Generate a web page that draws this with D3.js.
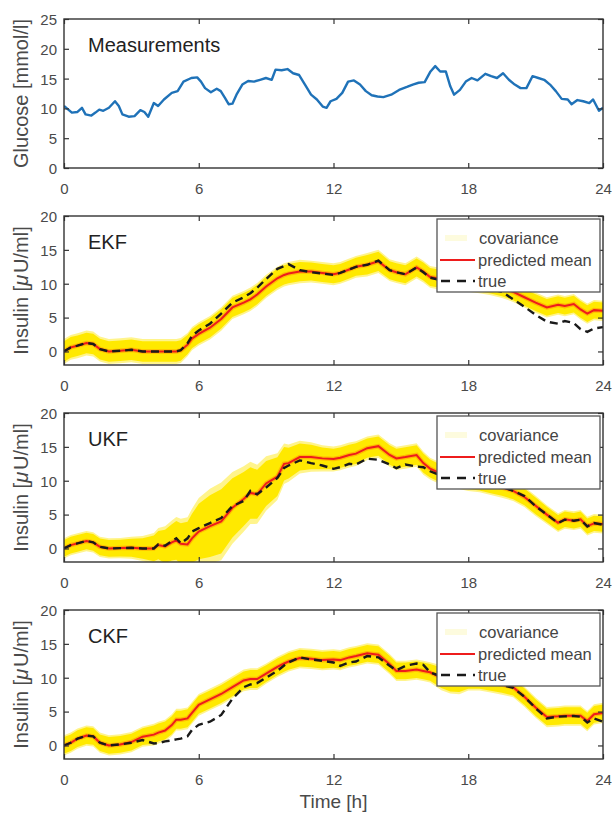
<!DOCTYPE html>
<html>
<head>
<meta charset="utf-8">
<script src="https://cdnjs.cloudflare.com/ajax/libs/d3/7.8.5/d3.min.js"></script>
<style>
  body { margin: 0; background: #fff; }
  svg { display: block; font-family: "Liberation Sans", Arial, sans-serif; }
  .tick text { fill: #4a4a4a; font-size: 15px; }
  .tick line { stroke: #333; stroke-width: 1.2; }
</style>
</head>
<body>
<div id="chart"></div>
<script>
// glucose measurements (mmol/l)
const glucoseHours = [0,0.35,0.6,0.8,0.96,1.22,1.4,1.57,1.75,2.0,2.27,2.44,2.6,2.88,3.14,3.4,3.58,3.75,4.0,4.19,
  4.45,4.8,5.06,5.32,5.67,5.93,6.1,6.28,6.54,6.8,6.98,7.16,7.33,7.5,7.68,7.94,8.2,8.46,8.73,8.99,
  9.25,9.42,9.69,9.95,10.2,10.47,10.73,11.0,11.26,11.52,11.69,11.87,12.13,12.39,12.65,12.91,13.18,13.44,13.7,13.96,
  14.22,14.57,14.92,15.27,15.53,15.79,16.06,16.32,16.53,16.75,17.0,17.2,17.37,17.63,17.89,18.15,18.41,18.76,19.02,19.28,
  19.55,19.81,20.07,20.33,20.59,20.86,21.12,21.38,21.64,21.9,22.16,22.43,22.6,22.86,23.12,23.39,23.56,23.82,24.0];
const glucose = [10.4,9.3,9.4,10.1,9.0,8.8,9.3,9.8,9.6,10.1,11.2,10.4,9.0,8.6,8.7,9.7,9.4,8.6,10.9,10.4,
  11.5,12.6,12.9,14.5,15.1,15.2,14.5,13.4,12.7,13.3,12.9,11.8,10.7,10.8,12.3,14.0,14.6,14.5,14.8,15.1,
  14.8,16.5,16.4,16.6,15.9,15.6,14.0,12.3,11.5,10.3,10.1,11.2,11.6,12.6,14.5,14.7,14.0,12.9,12.2,12.0,
  11.9,12.3,13.1,13.6,14.0,14.3,14.4,16.2,17.1,16.2,16.2,13.7,12.3,13.1,14.5,15.1,14.7,15.8,15.4,15.1,
  15.9,14.8,14.0,13.4,13.4,15.4,15.1,14.8,14.0,12.9,11.6,11.5,10.7,11.4,11.2,10.9,11.5,9.6,10.1];

// insulin (uU/ml), shared time grid
const insulinHours = [0,0.3,0.6,1.0,1.3, 1.6,2.0,2.5,3.0,3.5, 4.0,4.2,4.5,4.8,5.0, 5.2,5.5,5.7,6.0,6.5,
  7.0,7.5,8.0,8.3,8.6, 9.0,9.5,9.8,10.0,10.5, 11.0,11.5,12.0,12.3,12.7, 13.0,13.5,14.0,14.5,14.8,
  15.2,15.7,16.0,16.3,16.8, 17.2,17.6,18.0,18.5,19.0, 19.5,20.0,20.5,21.0,21.5, 22.0,22.3,22.7,23.0,23.3, 23.6,24.0];

const ekfTrue = [0,0.6,0.85,1.25,1.1, 0.35,0,0.1,0.25,0, 0,0,0,0,0, 0.2,1.2,2.3,3.1,4.1,
  5.6,7.2,8.0,8.6,9.4, 10.7,12.2,12.6,12.9,12.0, 11.7,11.5,11.3,11.6,12.1, 12.5,12.8,13.4,12.0,11.7,
  11.4,12.4,11.7,10.9,10.5, 10.4,10.2,9.9,9.6,9.2, 8.8,7.7,6.6,5.4,4.4, 4.1,4.5,4.2,3.3,2.9, 3.4,3.6];
const ekfMean = [0,0.6,0.85,1.25,1.1, 0.35,0,0.1,0.25,0, 0,0,0,0,0, 0.15,1.0,1.9,2.6,3.5,
  4.8,6.5,7.2,7.7,8.4, 9.6,10.8,11.3,11.5,11.8, 11.8,11.6,11.4,11.6,12.1, 12.5,12.8,13.3,12.0,11.7,
  11.4,12.4,11.8,11.0,10.7, 10.6,10.5,10.3,10.1,9.8, 9.4,8.8,8.0,7.2,6.5, 6.9,6.7,7.0,6.2,5.6, 6.1,6.0];
const ekfSd = [1.6,1.6,1.6,1.6,1.6, 1.6,1.6,1.6,1.6,1.6, 1.6,1.6,1.6,1.6,1.6, 1.6,1.5,1.5,1.5,1.5,
  1.5,1.5,1.5,1.5,1.5, 1.5,1.5,1.5,1.5,1.5, 1.4,1.4,1.4,1.4,1.4, 1.4,1.5,1.5,1.4,1.4,
  1.4,1.4,1.4,1.4,1.4, 1.3,1.3,1.3,1.3,1.3, 1.3,1.3,1.3,1.3,1.3, 1.3,1.3,1.3,1.3,1.3, 1.3,1.3];

const ukfTrue = [0,0.5,0.75,1.1,0.9, 0.25,0,0.05,0.1,0, 0,0.6,0.4,1.1,1.5, 0.75,1.5,2.5,3.0,3.75,
  4.5,6.25,7.0,8.5,8.0, 9.0,10.4,11.9,12.25,13.0, 12.6,12.25,11.75,12.0,12.5, 12.4,13.25,13.1,12.4,11.85,
  12.4,12.1,12.0,11.4,10.75, 10.5,10.2,10.0,9.75,9.25, 9.1,8.5,7.75,6.25,5.0, 3.75,4.25,4.1,4.25,3.25, 3.75,3.5];
const ukfMean = [0,0.5,0.75,1.1,0.9, 0.25,0,0.05,0.1,0, 0,0.5,0.3,0.9,1.2, 0.7,0.6,1.5,2.5,3.3,
  4.0,6.0,7.3,8.2,8.0, 9.6,10.6,12.5,12.6,13.5, 13.5,13.3,13.2,13.4,13.8, 14.0,14.8,15.1,13.8,13.3,
  13.5,13.8,12.6,11.8,11.0, 10.7,10.4,10.1,9.8,9.4, 9.0,8.5,7.6,6.3,5.0, 3.8,4.3,4.1,4.3,3.3, 3.7,3.6];
const ukfSd = [1.3,1.3,1.3,1.3,1.3, 1.3,1.3,1.3,1.4,1.6, 2.0,2.2,2.6,2.8,3.0, 3.2,3.5,3.8,4.3,4.8,
  5.0,4.6,4.2,4.0,3.8, 3.5,3.0,2.6,2.4,2.1, 1.9,1.7,1.6,1.6,1.6, 1.6,1.5,1.5,1.5,1.5,
  1.5,1.5,1.5,1.4,1.4, 1.4,1.4,1.4,1.3,1.3, 1.3,1.3,1.3,1.3,1.2, 1.2,1.2,1.2,1.2,1.2, 1.2,1.2];

const ckfTrue = [0,0.4,1.0,1.45,1.35, 0.4,0,0.15,0.4,0.8, 0.3,0.35,0.6,0.75,0.9, 1.0,1.35,2.3,3.05,3.5,
  4.5,6.9,8.6,9.0,9.2, 10.0,11.0,11.8,12.25,13.0, 12.7,12.5,12.25,11.75,12.25, 12.4,13.2,13.0,11.75,11.1,
  11.75,12.1,11.9,10.8,10.2, 9.2,9.35,9.6,9.8,9.35, 8.9,8.5,7.2,5.5,4.0, 4.25,4.3,4.35,4.25,3.4, 4.0,3.5];
const ckfMean = [0,0.4,1.0,1.45,1.35, 0.4,0,0.15,0.5,1.3, 1.6,1.9,2.2,3.0,3.8, 3.8,4.0,4.8,6.0,6.8,
  7.6,8.6,9.6,9.8,9.8, 10.6,11.6,12.1,12.4,12.9, 12.8,12.6,12.7,12.6,13.0, 13.2,13.6,13.4,12.0,11.0,
  11.0,11.2,11.0,10.8,10.0, 9.5,9.4,9.6,9.6,9.3, 9.0,8.6,7.2,5.6,4.2, 4.3,4.4,4.4,4.4,3.6, 4.6,4.8];
const ckfSd = [1.3,1.3,1.3,1.3,1.3, 1.3,1.3,1.3,1.3,1.3, 1.4,1.4,1.4,1.4,1.4, 1.4,1.4,1.4,1.4,1.4,
  1.4,1.4,1.4,1.4,1.4, 1.3,1.3,1.3,1.3,1.3, 1.3,1.3,1.3,1.3,1.3, 1.3,1.3,1.3,1.3,1.3,
  1.3,1.3,1.3,1.3,1.6, 1.6,1.6,1.3,1.3,1.3, 1.3,1.3,1.3,1.3,1.3, 1.3,1.3,1.3,1.3,1.3, 1.3,1.3];

const filterNames = ["EKF", "UKF", "CKF"];
const legendLabels = ["covariance", "predicted mean", "true"];
const hourTicks = [0, 6, 12, 18, 24];
const glucoseTicks = [0, 5, 10, 15, 20, 25];
const insulinTicks = [0, 5, 10, 15, 20];

// layout
const plotLeft = 64, plotRight = 603;
const panelTops = [19, 216, 413, 610];
const panelHeight = 149;
const axisColor = "#333";

const svg = d3.select("#chart").append("svg")
    .attr("width", 612)
    .attr("height", 816);

const x = d3.scaleLinear().domain([0, 24]).range([plotLeft, plotRight]);

function drawAxes(g, y, yTicks, top) {
    let bottom = top + panelHeight;

    g.append("g")
        .attr("transform", `translate(0,${bottom})`)
        .call(d3.axisBottom(x).tickValues(hourTicks).tickSize(-5).tickPadding(15))
        .call(a => a.select(".domain").remove());
    g.append("g")
        .attr("transform", `translate(0,${top})`)
        .call(d3.axisTop(x).tickValues(hourTicks).tickSize(-5).tickFormat(""))
        .call(a => a.select(".domain").remove());
    g.append("g")
        .attr("transform", `translate(${plotLeft},0)`)
        .call(d3.axisLeft(y).tickValues(yTicks).tickSize(-5).tickPadding(7))
        .call(a => a.select(".domain").remove())
        .selectAll("text").attr("dy", "0.36em");
    g.append("g")
        .attr("transform", `translate(${plotRight},0)`)
        .call(d3.axisRight(y).tickValues(yTicks).tickSize(-5).tickFormat(""))
        .call(a => a.select(".domain").remove());

    // box
    g.append("rect")
        .attr("x", plotLeft).attr("y", top)
        .attr("width", plotRight - plotLeft).attr("height", panelHeight)
        .attr("fill", "none")
        .attr("stroke", axisColor)
        .attr("stroke-width", 1.4);
}

function addClip(id, top) {
    svg.append("clipPath").attr("id", id)
        .append("rect")
        .attr("x", plotLeft).attr("y", top)
        .attr("width", plotRight - plotLeft).attr("height", panelHeight);
}

function panelTitle(g, text, top) {
    g.append("text")
        .attr("x", 88).attr("y", top + 33)
        .attr("font-size", 20)
        .attr("fill", "#222")
        .text(text);
}

function yLabel(g, top, build) {
    let t = g.append("text")
        .attr("transform", `translate(28,${top + panelHeight / 2}) rotate(-90)`)
        .attr("text-anchor", "middle")
        .attr("font-size", 20)
        .attr("fill", "#4a4a4a");
    build(t);
}

// ---- glucose panel ----
{
    let top = panelTops[0];
    let g = svg.append("g");
    let y = d3.scaleLinear().domain([0, 25]).range([top + panelHeight, top]);
    addClip("clip0", top);

    let line = d3.line()
        .x((d, i) => x(glucoseHours[i]))
        .y(d => y(d));

    g.append("path")
        .datum(glucose)
        .attr("clip-path", "url(#clip0)")
        .attr("d", line)
        .attr("fill", "none")
        .attr("stroke", "#1f72b8")
        .attr("stroke-width", 2.4)
        .attr("stroke-linejoin", "round");

    drawAxes(g, y, glucoseTicks, top);
    panelTitle(g, "Measurements", top);
    yLabel(g, top, t => t.text("Glucose [mmol/l]"));
}

// ---- filter panels ----
const filterSeries = [
    {truth: ekfTrue, mean: ekfMean, sd: ekfSd},
    {truth: ukfTrue, mean: ukfMean, sd: ukfSd},
    {truth: ckfTrue, mean: ckfMean, sd: ckfSd}
];

filterSeries.forEach((s, k) => {
    let top = panelTops[k + 1];
    let g = svg.append("g");
    let y = d3.scaleLinear().domain([-2, 20]).range([top + panelHeight, top]);
    let clipId = "clip" + (k + 1);
    addClip(clipId, top);

    let body = g.append("g").attr("clip-path", `url(#${clipId})`);

    // covariance band, soft outer rim then solid core
    let band = f => d3.area()
        .x((d, i) => x(insulinHours[i]))
        .y0((d, i) => y(s.mean[i] - s.sd[i] * f))
        .y1((d, i) => y(s.mean[i] + s.sd[i] * f));

    body.append("path").datum(s.mean)
        .attr("d", band(1.15))
        .attr("fill", "#fff48c");
    body.append("path").datum(s.mean)
        .attr("d", band(0.95))
        .attr("fill", "#ffe900");

    let line = arr => d3.line()
        .x((d, i) => x(insulinHours[i]))
        .y(d => y(d))(arr);

    // orange glow round the mean, then mean, then truth
    body.append("path")
        .attr("d", line(s.mean))
        .attr("fill", "none")
        .attr("stroke", "#ff9a00")
        .attr("stroke-width", 4.5)
        .attr("stroke-opacity", 0.6);
    body.append("path")
        .attr("d", line(s.mean))
        .attr("fill", "none")
        .attr("stroke", "#ee1c1c")
        .attr("stroke-width", 2);
    body.append("path")
        .attr("d", line(s.truth))
        .attr("fill", "none")
        .attr("stroke", "#1a1a1a")
        .attr("stroke-width", 2.4)
        .attr("stroke-dasharray", "8,5");

    drawAxes(g, y, insulinTicks, top);
    panelTitle(g, filterNames[k], top);
    yLabel(g, top, t => {
        t.append("tspan").text("Insulin [");
        t.append("tspan").attr("font-style", "italic").text("μ");
        t.append("tspan").attr("dx", 2).text("U/ml]");
    });

    // legend
    let lg = g.append("g").attr("transform", `translate(437,${top + 3})`);
    lg.append("rect")
        .attr("width", 163).attr("height", 73)
        .attr("fill", "#fff")
        .attr("stroke", "#555")
        .attr("stroke-width", 1.3);

    let rowY = [19, 41, 62];
    lg.append("line")
        .attr("x1", 8).attr("x2", 30).attr("y1", rowY[0]).attr("y2", rowY[0])
        .attr("stroke", "#fcf8c8").attr("stroke-width", 6).attr("stroke-opacity", 0.6);
    lg.append("line")
        .attr("x1", 3).attr("x2", 38).attr("y1", rowY[1]).attr("y2", rowY[1])
        .attr("stroke", "#ee1c1c").attr("stroke-width", 2);
    lg.append("line")
        .attr("x1", 4).attr("x2", 38).attr("y1", rowY[2]).attr("y2", rowY[2])
        .attr("stroke", "#1a1a1a").attr("stroke-width", 2.4)
        .attr("stroke-dasharray", "9,7");

    lg.selectAll("text.lbl")
        .data(legendLabels)
        .join("text")
        .attr("class", "lbl")
        .attr("x", (d, i) => i === 0 ? 42 : 41)
        .attr("y", (d, i) => rowY[i])
        .attr("dy", "0.35em")
        .attr("font-size", 16.5)
        .attr("fill", "#444")
        .text(d => d);
});

// x label
svg.append("text")
    .attr("x", (plotLeft + plotRight) / 2)
    .attr("y", 808)
    .attr("text-anchor", "middle")
    .attr("font-size", 19)
    .attr("fill", "#4a4a4a")
    .text("Time [h]");
</script>
</body>
</html>
